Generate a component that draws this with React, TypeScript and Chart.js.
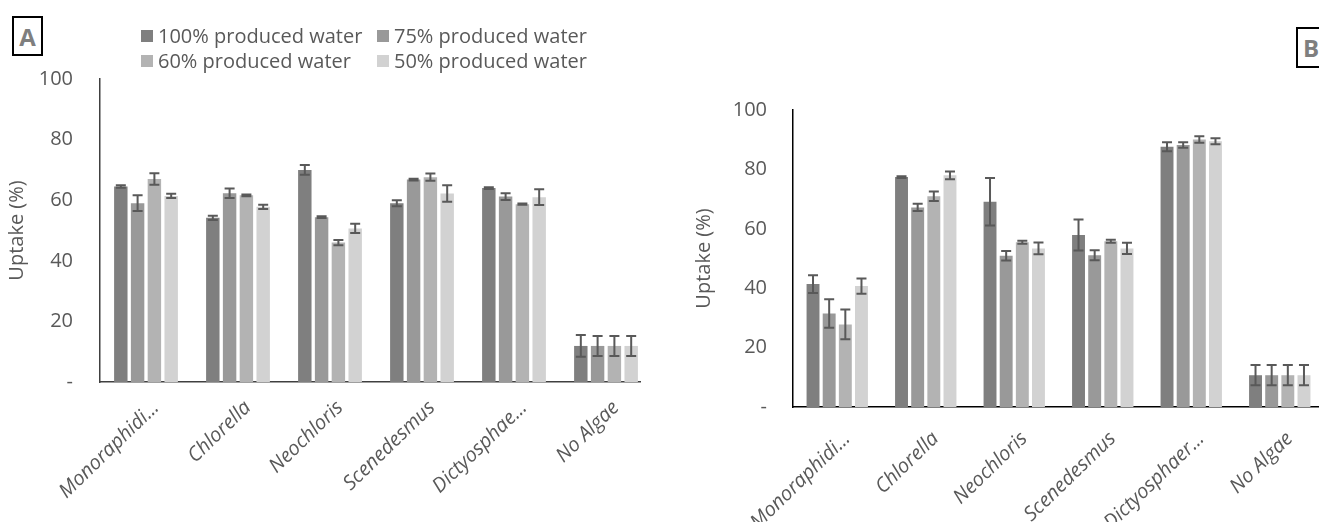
import React, { useEffect, useRef } from "react";
import { Chart, registerables } from "chart.js";

Chart.register(...registerables);

// ---------- data ----------
const categoriesA = ["Monoraphidi...", "Chlorella", "Neochloris", "Scenedesmus", "Dictyosphae...", "No Algae"];
const categoriesB = ["Monoraphidi...", "Chlorella", "Neochloris", "Scenedesmus", "Dictyosphaer...", "No Algae"];
const seriesLabels = ["100% produced water", "75% produced water", "60% produced water", "50% produced water"];
const yTicks = [0, 20, 40, 60, 80, 100];

const pw100A = [64.5, 54.2, 70.0, 59.0, 64.0, 11.9];
const pw75A = [59.0, 62.3, 54.4, 66.8, 61.2, 11.9];
const pw60A = [67.0, 61.6, 46.0, 67.6, 58.7, 11.9];
const pw50A = [61.4, 57.8, 50.7, 62.2, 61.0, 11.9];
const err100A = [0.4, 0.7, 1.6, 1.0, 0.3, 3.6];
const err75A = [2.6, 1.6, 0.3, 0.3, 1.1, 3.3];
const err60A = [1.9, 0.3, 0.9, 1.2, 0.2, 3.3];
const err50A = [0.7, 0.7, 1.5, 2.7, 2.6, 3.3];

const pw100B = [41.4, 77.4, 69.1, 57.9, 87.6, 10.7];
const pw75B = [31.5, 67.2, 50.9, 51.1, 88.2, 10.7];
const pw60B = [27.8, 71.0, 55.5, 55.8, 90.1, 10.7];
const pw50B = [40.7, 78.0, 53.4, 53.4, 89.5, 10.7];
const err100B = [3.0, 0.3, 8.0, 5.2, 1.5, 3.4];
const err75B = [4.8, 1.2, 1.6, 1.7, 0.9, 3.4];
const err60B = [5.0, 1.6, 0.5, 0.5, 1.1, 3.4];
const err50B = [2.6, 1.3, 2.0, 1.9, 1.0, 3.4];

// ---------- styles ----------
const FONT = "'Open Sans', sans-serif";
const TEXT = "#595959";
const barColors = ["#7f7f7f", "#999999", "#b3b3b3", "#d2d2d2"];

const errorBarPlugin = {
  id: "errorBars",
  afterDatasetsDraw(chart: any) {
    const ctx = chart.ctx;
    const ys = chart.scales.y;
    ctx.save();
    ctx.strokeStyle = "#595959";
    ctx.lineWidth = 2;
    chart.data.datasets.forEach((ds: any, i: number) => {
      const meta = chart.getDatasetMeta(i);
      meta.data.forEach((bar: any, j: number) => {
        const v = ds.data[j];
        const e = ds.errors[j];
        const x = bar.x;
        const yt = ys.getPixelForValue(v + e);
        const yb = ys.getPixelForValue(v - e);
        ctx.beginPath();
        ctx.moveTo(x, yt);
        ctx.lineTo(x, yb);
        ctx.moveTo(x - 5, yt);
        ctx.lineTo(x + 5, yt);
        ctx.moveTo(x - 5, yb);
        ctx.lineTo(x + 5, yb);
        ctx.stroke();
      });
    });
    ctx.restore();
  },
};

const gridLegendPlugin = {
  id: "gridLegend",
  afterDraw(chart: any, _args: any, opts: any) {
    if (!opts || !opts.show) return;
    const ctx = chart.ctx;
    ctx.save();
    ctx.font = `20px ${FONT}`;
    ctx.textBaseline = "middle";
    ctx.textAlign = "left";
    chart.data.datasets.forEach((ds: any, i: number) => {
      const col = i % 2;
      const row = Math.floor(i / 2);
      const bx = opts.x[col];
      const cy = opts.y[row];
      ctx.fillStyle = ds.backgroundColor;
      ctx.fillRect(bx, cy - 6, 12, 12);
      ctx.fillStyle = TEXT;
      ctx.fillText(ds.label, bx + 17, cy + 1);
    });
    ctx.restore();
  },
};

type PanelProps = {
  categories: string[];
  values: number[][];
  errors: number[][];
  canvasW: number;
  canvasH: number;
  padTop: number;
  padRight: number;
  yWidth: number;
  xHeight: number;
  tickPad: number;
  xTickPad: number;
  borderColor: string;
  legend: any;
};

function Panel(p: PanelProps) {
  const ref = useRef<HTMLCanvasElement | null>(null);
  useEffect(() => {
    if (!ref.current) return;
    const chart = new Chart(ref.current, {
      type: "bar",
      data: {
        labels: p.categories,
        datasets: p.values.map((vals, i) => ({
          label: seriesLabels[i],
          data: vals,
          errors: p.errors[i],
          backgroundColor: barColors[i],
          borderWidth: 0,
          categoryPercentage: 0.73,
          barPercentage: 0.8,
        })) as any,
      },
      options: {
        responsive: false,
        animation: false,
        devicePixelRatio: 1,
        layout: { padding: { top: p.padTop, right: p.padRight, left: 0, bottom: 0 } },
        plugins: {
          legend: { display: false },
          tooltip: { enabled: false },
          gridLegend: p.legend,
        } as any,
        scales: {
          x: {
            grid: { display: false, drawTicks: false },
            border: { display: true, color: p.borderColor, width: 1.5 },
            ticks: {
              autoSkip: false,
              minRotation: 44,
              maxRotation: 44,
              labelOffset: 10,
              padding: p.xTickPad,
              color: TEXT,
              font: { family: FONT, size: 20, style: "italic" },
            },
            afterFit: (s: any) => {
              s.height = p.xHeight;
            },
          },
          y: {
            min: 0,
            max: 100,
            afterBuildTicks: (s: any) => {
              s.ticks = yTicks.map((v) => ({ value: v }));
            },
            grid: { display: false, drawTicks: false },
            border: { display: true, color: p.borderColor, width: 1.5 },
            ticks: {
              padding: p.tickPad,
              color: TEXT,
              font: { family: FONT, size: 20 },
              callback: (v: any) => (Number(v) === 0 ? "-" : String(v)),
            },
            title: {
              display: true,
              text: "Uptake (%)",
              color: TEXT,
              font: { family: FONT, size: 20 },
              padding: { top: 5, bottom: 0 },
            },
            afterFit: (s: any) => {
              s.width = p.yWidth;
            },
          },
        },
      },
      plugins: [errorBarPlugin, gridLegendPlugin],
    });
    return () => chart.destroy();
  }, []);
  return <canvas ref={ref} width={p.canvasW} height={p.canvasH} style={{ width: p.canvasW, height: p.canvasH, display: "block" }} />;
}

const boxStyle: React.CSSProperties = {
  position: "absolute",
  border: "2px solid #000",
  boxSizing: "border-box",
  color: "#7f7f7f",
  fontFamily: FONT,
  fontWeight: 700,
  fontSize: 24,
  display: "flex",
  alignItems: "center",
  justifyContent: "center",
  background: "#fff",
};

export default function App() {
  return (
    <div style={{ position: "absolute", left: 0, top: 0, width: 1319, height: 522, overflow: "hidden", background: "#fff" }}>
      <div style={{ position: "absolute", left: 0, top: 0, width: 641, height: 522, overflow: "hidden" }}>
        <Panel
          categories={categoriesA}
          values={[pw100A, pw75A, pw60A, pw50A]}
          errors={[err100A, err75A, err60A, err50A]}
          canvasW={660}
          canvasH={522}
          padTop={79}
          padRight={8}
          yWidth={100}
          xHeight={140}
          tickPad={27}
          xTickPad={14}
          borderColor="#404040"
          legend={{ show: true, x: [141, 377], y: [36, 61] }}
        />
      </div>
      <div style={{ position: "absolute", left: 687, top: 0, width: 632, height: 522, overflow: "hidden" }}>
        <Panel
          categories={categoriesB}
          values={[pw100B, pw75B, pw60B, pw50B]}
          errors={[err100B, err75B, err60B, err50B]}
          canvasW={645}
          canvasH={522}
          padTop={110}
          padRight={8}
          yWidth={106}
          xHeight={115}
          tickPad={26}
          xTickPad={20}
          borderColor="#000000"
          legend={{ show: false }}
        />
      </div>
      <div style={{ ...boxStyle, left: 12, top: 16, width: 31, height: 40 }}>A</div>
      <div style={{ ...boxStyle, left: 1296, top: 27, width: 31, height: 41, justifyContent: "flex-start", paddingLeft: 5 }}>B</div>
    </div>
  );
}
